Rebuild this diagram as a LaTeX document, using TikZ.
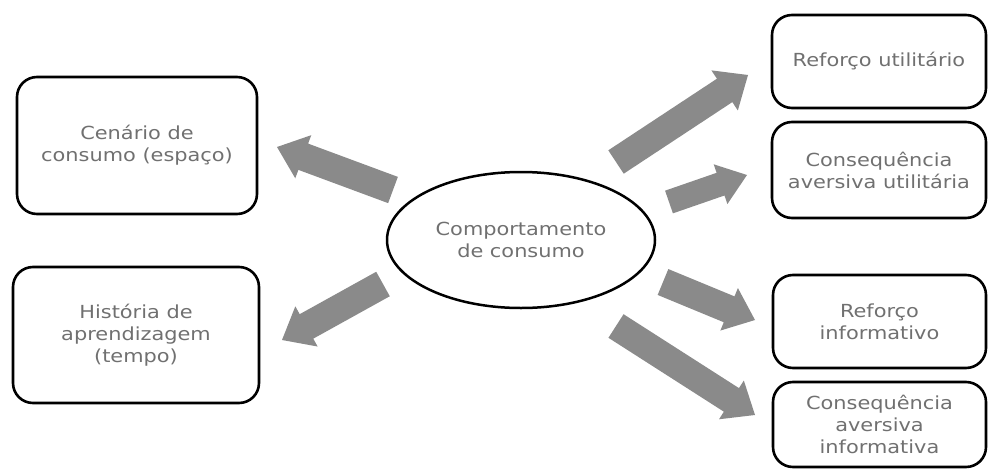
\documentclass[tikz,border=0pt]{standalone}
\usepackage{fontspec}
\setmainfont{DejaVu Sans}[FakeStretch=1.16]
\usetikzlibrary{calc,shapes.geometric}
\definecolor{txt}{HTML}{707070}
\definecolor{arrfill}{HTML}{8A8A8A}
\newcommand{\blockarr}[4]{%
  \coordinate (nk) at ($(#2)!28pt!(#1)$);
  \fill[arrfill] ($(#1)!#3!90:(#2)$) -- ($(nk)!#3!-90:(#1)$) -- ($(nk)!#4!-90:(#1)$) -- (#2)
     -- ($(nk)!#4!90:(#1)$) -- ($(nk)!#3!90:(#1)$) -- ($(#1)!#3!-90:(#2)$) -- cycle;}
\begin{document}
\begin{tikzpicture}[x=1pt,y=-1pt,
  box/.style={draw=black, line width=2.6pt, rounded corners=20pt, align=center,
    text=txt, font=\fontsize{18}{22}\selectfont, inner sep=0pt},
  oval/.style={ellipse, draw=black, line width=2.5pt, align=center,
    text=txt, font=\fontsize{18}{22}\selectfont, inner sep=0pt}]
\useasboundingbox (0,0) rectangle (988,471);
% left boxes
\node[box, minimum width=240pt, minimum height=137pt] (cen) at (137,145.5) {Cenário de\\consumo (espaço)};
\node[box, minimum width=246pt, minimum height=136pt] (hist) at (136,335) {História de\\aprendizagem\\(tempo)};
% centre
\node[oval, minimum width=268pt, minimum height=136pt] (cc) at (521,240) {Comportamento\\de consumo};
% right boxes
\node[box, minimum width=214pt, minimum height=93pt] (ru) at (879,61.5) {Reforço utilitário};
\node[box, minimum width=214pt, minimum height=96pt] (cau) at (879,170) {Consequência\\aversiva utilitária};
\node[box, minimum width=213pt, minimum height=93pt] (ri) at (879.5,321.5) {Reforço\\informativo};
\node[box, minimum width=213pt, minimum height=85pt] (cai) at (879.5,424.5) {Consequência\\aversiva\\informativa};
% arrow end points
\coordinate (a1t) at (393,190); \coordinate (a1h) at (277,147);
\coordinate (a2t) at (383,284); \coordinate (a2h) at (282,340);
\coordinate (a3t) at (616,162); \coordinate (a3h) at (748,75);
\coordinate (a4t) at (669,202); \coordinate (a4h) at (747,175);
\coordinate (a5t) at (663,282); \coordinate (a5h) at (755,320);
\coordinate (a6t) at (616,326); \coordinate (a6h) at (755,415);
\blockarr{a1t}{a1h}{14pt}{23pt}
\blockarr{a2t}{a2h}{14pt}{23pt}
\blockarr{a3t}{a3h}{14pt}{24pt}
\blockarr{a4t}{a4h}{12pt}{21pt}
\blockarr{a5t}{a5h}{14pt}{23pt}
\blockarr{a6t}{a6h}{14pt}{23pt}
\end{tikzpicture}
\end{document}
